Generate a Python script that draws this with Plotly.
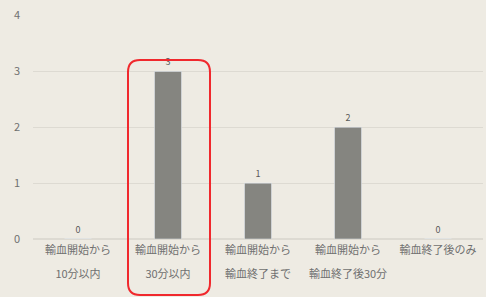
import plotly.graph_objects as go

cat_line1 = ["輸血開始から", "輸血開始から", "輸血開始から", "輸血開始から", "輸血終了後のみ"]
cat_line2 = ["10分以内", "30分以内", "輸血終了まで", "輸血終了後30分", ""]
values = [0, 3, 1, 2, 0]
y_ticks = [0, 1, 2, 3, 4]

bg = "#EEEBE3"
txt = "#707070"
idx = list(range(len(values)))
fig = go.Figure(go.Bar(
    x=idx, y=values, marker_color="#858580", width=0.3,
    text=[str(v) for v in values], textposition="outside",
    textfont=dict(size=9, color="#595959"), cliponaxis=False,
))
# invisible helper trace so the second category-label axis is drawn
fig.add_trace(go.Scatter(x=idx, y=values, xaxis="x2", yaxis="y", mode="markers",
                         marker=dict(opacity=0), hoverinfo="skip", showlegend=False))

W, H = 486, 297
l, r, t, b = 33, 3, 15, 58
pw, ph = W - l - r, H - t - b

def px(xp):
    return (xp - l) / pw

def py(yp):
    return (H - b - yp) / ph

x0, x1, y0, y1 = px(128), px(210), py(60), py(295)
rx, ry = 12 / pw, 12 / ph
path = (f"M {x0+rx},{y0} L {x1-rx},{y0} Q {x1},{y0} {x1},{y0-ry} "
        f"L {x1},{y1+ry} Q {x1},{y1} {x1-rx},{y1} L {x0+rx},{y1} Q {x0},{y1} {x0},{y1+ry} "
        f"L {x0},{y0-ry} Q {x0},{y0} {x0+rx},{y0} Z")
fig.add_shape(type="path", path=path, xref="paper", yref="paper",
              line=dict(color="#F0282D", width=2), fillcolor="rgba(0,0,0,0)")

xcommon = dict(tickmode="array", tickvals=idx, range=[-0.5, 4.5], showgrid=False,
               zeroline=False, showline=False, ticks="", ticklen=0, automargin=False,
               tickfont=dict(size=11, color=txt, family="Noto Sans CJK JP"))
fig.update_layout(
    width=W, height=H, margin=dict(l=l, r=r, t=t, b=b),
    paper_bgcolor=bg, plot_bgcolor=bg,
    font=dict(family="Noto Sans CJK JP", size=10, color=txt),
    showlegend=False, bargap=0.7,
    xaxis=dict(ticktext=cat_line1, ticklabelstandoff=3, **xcommon),
    xaxis2=dict(ticktext=cat_line2, overlaying="x", anchor="y", side="bottom",
                ticklabelstandoff=27, **xcommon),
    yaxis=dict(range=[0, 4.01], tickvals=y_ticks, showgrid=True, gridcolor="#DDDAD2", gridwidth=1,
               zeroline=True, zerolinecolor="#DDDAD2", showline=False, ticks="",
               tickfont=dict(size=11, color=txt), ticklabelstandoff=12, automargin=False),
)
fig.write_html("out.html", config={"displayModeBar": False},
               post_script="document.body.style.margin='0';document.body.style.background='%s';" % bg)
